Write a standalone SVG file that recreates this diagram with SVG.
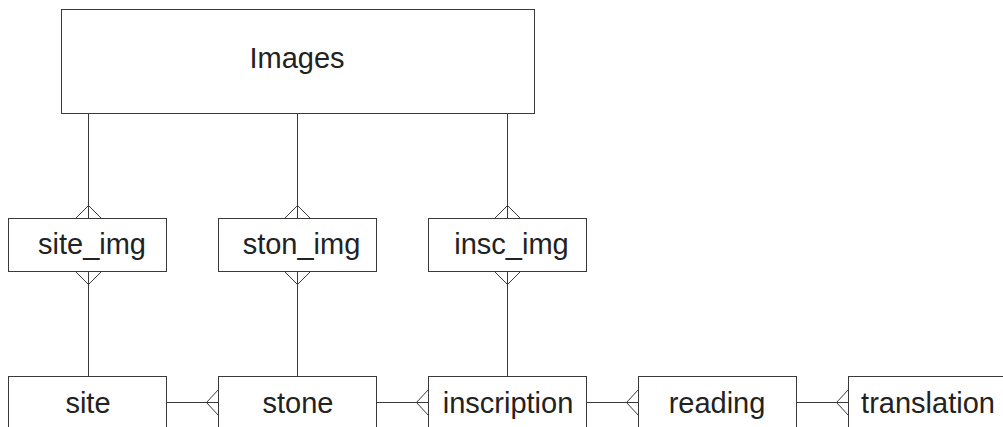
<svg xmlns="http://www.w3.org/2000/svg" width="1003" height="427" viewBox="0 0 1003 427">
<style>
.box{fill:#fff;stroke:#3a3a3a;stroke-width:1}
.lbl{font-family:"Liberation Sans",Arial,sans-serif;font-size:29px;fill:#222;text-anchor:middle}
.ln{fill:none;stroke:#3a3a3a;stroke-width:1}
</style>
<rect width="1003" height="427" fill="#fff"/>
<g id="connectors">
<path class="ln" d="M88.5 113.5V376.5M75.5 218.5L88.5 205.5L101.5 218.5M75.5 271.5L88.5 284.5L101.5 271.5"/>
<path class="ln" d="M297.5 113.5V376.5M284.5 218.5L297.5 205.5L310.5 218.5M284.5 271.5L297.5 284.5L310.5 271.5"/>
<path class="ln" d="M507.5 113.5V376.5M494.5 218.5L507.5 205.5L520.5 218.5M494.5 271.5L507.5 284.5L520.5 271.5"/>
<path class="ln" d="M166.5 402.5H218.5M218.5 389.5L206.5 402.5L218.5 415.5"/>
<path class="ln" d="M376.5 402.5H428.5M428.5 389.5L416.5 402.5L428.5 415.5"/>
<path class="ln" d="M586.5 402.5H638.5M638.5 389.5L626.5 402.5L638.5 415.5"/>
<path class="ln" d="M796.5 402.5H848.5M848.5 389.5L836.5 402.5L848.5 415.5"/>
</g>
<g id="images"><rect class="box" x="61.5" y="9.5" width="473" height="104"/><text class="lbl" x="297" y="68">Images</text></g>
<g id="site_img"><rect class="box" x="8.5" y="218.5" width="158" height="53"/><text class="lbl" x="92" y="254">site_img</text></g>
<g id="ston_img"><rect class="box" x="218.5" y="218.5" width="158" height="53"/><text class="lbl" x="301.5" y="254">ston_img</text></g>
<g id="insc_img"><rect class="box" x="428.5" y="218.5" width="158" height="53"/><text class="lbl" x="511.5" y="254">insc_img</text></g>
<g id="site"><rect class="box" x="8.5" y="376.5" width="158" height="70"/><text class="lbl" x="88" y="413">site</text></g>
<g id="stone"><rect class="box" x="218.5" y="376.5" width="158" height="70"/><text class="lbl" x="298" y="413">stone</text></g>
<g id="inscription"><rect class="box" x="428.5" y="376.5" width="158" height="70"/><text class="lbl" x="508" y="413">inscription</text></g>
<g id="reading"><rect class="box" x="638.5" y="376.5" width="158" height="70"/><text class="lbl" x="717" y="413">reading</text></g>
<g id="translation"><rect class="box" x="848.5" y="376.5" width="160" height="70"/><text class="lbl" x="928" y="413">translation</text></g>
</svg>
